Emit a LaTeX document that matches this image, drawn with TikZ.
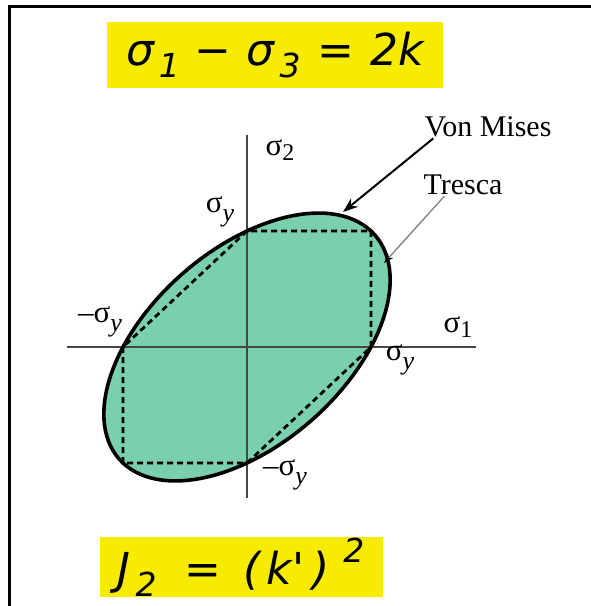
\documentclass[tikz,border=0pt]{standalone}
\usepackage{fontspec}
\setmainfont{Liberation Serif}
\newfontfamily\eqfont{DejaVu Sans}
\usepackage{xcolor}
\usetikzlibrary{arrows.meta, positioning}

\definecolor{hlyellow}{RGB}{247,236,0}
\definecolor{yieldgreen}{RGB}{122,207,172}
\definecolor{axisgray}{RGB}{70,70,70}

% sigma labels in the plot
\newcommand{\sig}[1]{σ\raisebox{-0.35ex}{\fontsize{24}{24}\selectfont #1}}
\newcommand{\sigy}{σ\raisebox{-0.6ex}{\fontsize{26}{26}\selectfont\itshape y}}
% sub- and superscripts in the yellow boxes
\newcommand{\eqsub}[1]{\hspace{5pt}\raisebox{-0.5ex}{\fontsize{33}{33}\selectfont #1}}
\newcommand{\eqsup}[1]{\raisebox{0.9ex}{\fontsize{33}{33}\selectfont #1}}

\begin{document}
\begin{tikzpicture}[x=1pt, y=1pt,
    eqbox/.style={fill=hlyellow, inner sep=0pt, font=\eqfont\itshape\fontsize{44}{44}\selectfont},
    lbl/.style={font=\fontsize{31}{31}\selectfont, inner sep=1pt},
    note/.style={font=\fontsize{30}{30}\selectfont, inner sep=1pt}]
  \useasboundingbox (0,0) rectangle (590,606);
  \draw[line width=3pt] (9,-5) -- (9,599) -- (600,599);

  % criteria
  \node[eqbox, minimum width=336pt, minimum height=66pt] (crit) at (275,551)
    {σ\eqsub{1}\hspace{15pt}−\hspace{15pt}σ\eqsub{3}\hspace{17pt}=\hspace{16pt}2k};
  \node[eqbox, minimum width=283pt, minimum height=60pt] (inv) at (241,39)
    {J\eqsub{2}\hspace{28pt}=\hspace{22pt}(\hspace{6pt}k'\hspace{8pt})\hspace{14pt}\eqsup{2}};

  % yield surfaces
  \begin{scope}[shift={(247,259)}, x=124pt, y=116pt]
    \fill[yieldgreen] plot[domain=0:360, samples=121] ({cos(\x)-sin(\x)/sqrt(3)}, {cos(\x)+sin(\x)/sqrt(3)}) -- cycle;
    \draw[axisgray, line width=2.4pt] (-1.45,0) -- (1.85,0);
    \draw[axisgray, line width=2.4pt] (0,1.83) -- (0,-1.30);
    \draw[line width=2.8pt, dash pattern=on 6pt off 4pt] (1,0) -- (1,1) -- (0,1) -- (-1,0) -- (-1,-1) -- (0,-1) -- cycle;
    \draw[line width=3.6pt] plot[domain=0:360, samples=121] ({cos(\x)-sin(\x)/sqrt(3)}, {cos(\x)+sin(\x)/sqrt(3)}) -- cycle;
  \end{scope}

  \node[lbl] (s2) at (280,456) {\sig{2}};
  \node[lbl] (s1) at (458,279) {\sig{1}};
  \node[lbl] (sytop) at (220,394) {\sigy};
  \node[lbl] (syleft) at (100,284) {–\sigy};
  \node[lbl] (syright) at (400,246) {\sigy};
  \node[lbl] (sybot) at (285,131) {–\sigy};

  \node[note] (vm) at (488,479) {Von Mises};
  \node[note] (tr) at (463,421) {Tresca};
  \coordinate (vmtip) at (343,394);
  \coordinate (trtip) at (384,343);
  \draw[line width=2pt, -{Stealth[length=15pt, width=11pt]}] ([xshift=10pt]vm.south west) -- (vmtip);
  \draw[gray, line width=1.3pt, -{Stealth[length=10pt, width=7pt, black]}] ([xshift=22pt]tr.south west) -- (trtip);
\end{tikzpicture}
\end{document}
